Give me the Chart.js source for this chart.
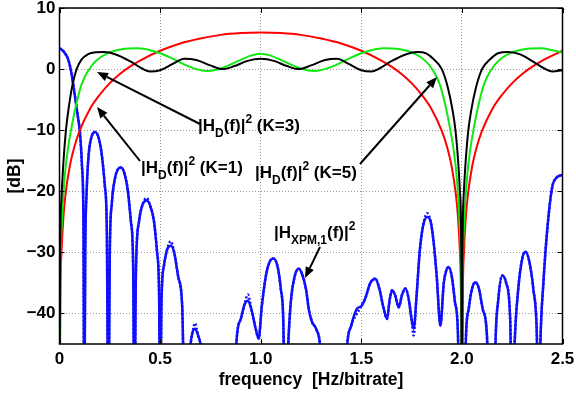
<!DOCTYPE html>
<html>
<head>
<meta charset="utf-8">
<script src="https://cdn.jsdelivr.net/npm/chart.js@4.4.1/dist/chart.umd.min.js"></script>
<style>
  html, body { margin: 0; padding: 0; background: #fff; }
</style>
</head>
<body>
<canvas id="myChart" width="576" height="398"></canvas>
<script>
// |H_D(f)|^2, K=1 (red)
var k1Freq = [0, 0.005, 0.01, 0.02, 0.03, 0.05, 0.075, 0.1, 0.15, 0.2, 0.25, 0.3, 0.35, 0.4, 0.5, 0.6, 0.7, 0.8, 0.9, 1.0,
              1.1, 1.2, 1.3, 1.4, 1.5, 1.6, 1.65, 1.7, 1.75, 1.8, 1.85, 1.9, 1.925, 1.95, 1.97, 1.98, 1.99, 1.995, 2.0,
              2.005, 2.01, 2.02, 2.03, 2.05, 2.075, 2.1, 2.15, 2.2, 2.25, 2.3, 2.35, 2.4, 2.5];
var k1Db   = [-60, -36, -30, -24, -20.5, -16.1, -12.6, -10.1, -6.6, -4.2, -2.3, -0.8, 0.4, 1.4, 3.0, 4.2, 5.0, 5.6, 5.9, 6.0,
              5.9, 5.6, 5.0, 4.2, 3.0, 1.4, 0.4, -0.8, -2.3, -4.2, -6.6, -10.1, -12.6, -16.1, -20.5, -24, -30, -36, -60,
              -36, -30, -24, -20.5, -16.1, -12.6, -10.1, -6.6, -4.2, -2.3, -0.8, 0.4, 1.4, 3.0];

// K=3 (green)
var k3Freq = [0, 0.004, 0.012, 0.025, 0.04, 0.06, 0.085, 0.11, 0.14, 0.18, 0.24, 0.31, 0.39, 0.45, 0.5, 0.57, 0.63, 0.68, 0.73, 0.78, 0.84, 0.9, 0.95, 1.0,
              1.05, 1.1, 1.16, 1.22, 1.27, 1.32, 1.37, 1.43, 1.5, 1.55,
              1.61, 1.69, 1.76, 1.82, 1.86, 1.89, 1.915, 1.94, 1.96, 1.975, 1.988, 1.996, 2.0,
              2.004, 2.012, 2.025, 2.04, 2.06, 2.085, 2.11, 2.14, 2.18, 2.24, 2.31, 2.39, 2.45, 2.5];
var k3Db   = [-60, -35, -25, -18, -13.5, -9.5, -5.5, -2.5, -0.4, 1.3, 2.6, 3.25, 3.4, 3.1, 2.6, 1.6, 0.6, 0, -0.3, -0.1, 0.6, 1.5, 2.2, 2.5,
              2.2, 1.5, 0.6, -0.1, -0.3, 0, 0.6, 1.6, 2.6, 3.1,
              3.4, 3.25, 2.6, 1.3, -0.4, -2.5, -5.5, -9.5, -13.5, -18, -25, -35, -60,
              -35, -25, -18, -13.5, -9.5, -5.5, -2.5, -0.4, 1.3, 2.6, 3.25, 3.4, 3.1, 2.7];

// K=5 (black)
var k5Freq = [0, 0.003, 0.01, 0.02, 0.032, 0.045, 0.065, 0.085, 0.11, 0.14, 0.18, 0.22, 0.28, 0.35, 0.41, 0.45, 0.5, 0.56, 0.62, 0.68, 0.75, 0.81, 0.87, 0.93, 1.0,
              1.07, 1.13, 1.19, 1.25, 1.32, 1.38, 1.44, 1.5, 1.55, 1.59, 1.65, 1.72,
              1.78, 1.82, 1.86, 1.9, 1.93, 1.955, 1.968, 1.98, 1.99, 1.997, 2.0,
              2.003, 2.01, 2.02, 2.032, 2.045, 2.07, 2.1, 2.14, 2.18, 2.23, 2.29, 2.35, 2.41, 2.45, 2.5];
var k5Db   = [-60, -31, -21, -15, -10, -6.5, -2.5, 0, 1.6, 2.4, 2.75, 2.8, 2.4, 1.3, 0.1, -0.4, -0.2, 0.8, 1.7, 1.5, 0.6, 0, 0.5, 1.3, 1.7,
              1.3, 0.5, 0, 0.6, 1.5, 1.7, 0.8, -0.2, -0.4, 0.1, 1.3, 2.4,
              2.8, 2.6, 1.6, 0, -3, -7, -10, -14.5, -20, -30, -60,
              -30, -20, -14.5, -10, -7, -3, 0, 1.6, 2.6, 2.8, 2.4, 1.3, 0.1, -0.4, -0.2];

// |H_XPM,1(f)|^2 (blue)
var xpmFreq = [0, 0.02, 0.044, 0.06, 0.077, 0.09, 0.102, 0.112, 0.119, 0.123,
               0.128, 0.135, 0.145, 0.16, 0.177, 0.195, 0.21, 0.225, 0.235, 0.243,
               0.25, 0.26, 0.275, 0.29, 0.306, 0.322, 0.34, 0.355, 0.366, 0.372,
               0.38, 0.395, 0.415, 0.434, 0.45, 0.47, 0.485, 0.495, 0.5,
               0.507, 0.52, 0.535, 0.553, 0.57, 0.59, 0.61, 0.624,
               0.65, 0.662, 0.674, 0.688, 0.707, 0.75, 0.87,
               0.878, 0.9, 0.92, 0.936, 0.955, 0.975, 0.99, 1.005, 1.025, 1.045, 1.064, 1.085, 1.1, 1.112, 1.122,
               1.137, 1.15, 1.17, 1.188, 1.205, 1.225, 1.24, 1.255, 1.275, 1.296, 1.32, 1.41,
               1.429, 1.45, 1.479, 1.5, 1.52, 1.545, 1.57, 1.59, 1.61, 1.628, 1.64, 1.653, 1.668, 1.686, 1.702, 1.719, 1.735, 1.75, 1.76,
               1.775, 1.79, 1.805, 1.827, 1.845, 1.86, 1.875, 1.893, 1.91, 1.922, 1.934, 1.95, 1.965, 1.98, 1.99, 2.01,
               2.02, 2.035, 2.05, 2.067, 2.085, 2.105, 2.125, 2.134, 2.16,
               2.167, 2.18, 2.2, 2.22, 2.24, 2.25,
               2.262, 2.28, 2.3, 2.316, 2.335, 2.355, 2.372, 2.382,
               2.39, 2.405, 2.425, 2.449, 2.47, 2.49, 2.5];
var xpmDb   = [3.4, 2.9, 1.5, -0.8, -4.5, -7.5, -10.5, -16, -25, -60,
               -30, -20, -14, -11, -10.3, -11.3, -14, -19, -26, -60,
               -30, -22, -18, -16.4, -16.1, -17, -20, -25, -32, -60,
               -33, -25, -22, -21.5, -22.3, -25, -30, -37, -60,
               -38, -32, -29.5, -28.9, -30, -34, -39, -60,
               -45.5, -43, -42.5, -43.5, -46, -60, -60,
               -45.5, -41, -38.5, -37.9, -39.5, -42.5, -44.1, -39, -34, -31.5, -31.0, -32.5, -36, -41, -60,
               -45, -38, -33.8, -32.7, -33.5, -36, -39.5, -41.4, -42.5, -45.5, -60, -60,
               -45.5, -42, -39.2, -38.8, -37.5, -35, -34.3, -36, -39, -40.9, -38, -36.2, -37, -39.0, -37, -35.9, -37.5, -41, -42.5,
               -37, -30, -26, -24.2, -25, -28.5, -34, -42, -35, -33, -32.4, -34, -38, -43, -60, -60,
               -44, -39, -36, -34.9, -36, -39.5, -44, -60, -60,
               -45, -38, -33.8, -35, -41, -60,
               -45, -36, -31, -29.9, -31.5, -36, -43, -60,
               -45, -35, -26, -19.3, -17.8, -17.4, -17.3];
// dotted twin of the XPM curve: differs only at a few points
var xpmDotFix = { '0.434': -21.1, '0.553': -28.2, '0.674': -41.6, '0.936': -36.9, '1.479': -40.0, '1.76': -43.6, '1.827': -23.6 };

var yTicks = [-40, -30, -20, -10, 0, 10];
var xTicks = [0, 0.5, 1, 1.5, 2, 2.5];

function pts(fs, ds) {
    return fs.map(function (f, i) { return { x: f, y: ds[i] }; });
}
var xpmDotDb = xpmFreq.map(function (f, i) {
    var k = String(f);
    return xpmDotFix[k] !== undefined ? xpmDotFix[k] : xpmDb[i];
});

var FONT = '"Liberation Sans", Arial, Helvetica, sans-serif';

function richText(ctx, x, y, parts) {
    parts.forEach(function (p) {
        var size = p.s ? 12 : 17;
        var dy = p.s === 'sub' ? 6 : (p.s === 'sup' ? -8 : 0);
        ctx.font = 'bold ' + size + 'px ' + FONT;
        ctx.fillText(p.t, x, y + dy);
        x += ctx.measureText(p.t).width;
    });
}

function arrow(ctx, x1, y1, x2, y2) {
    var ang = Math.atan2(y2 - y1, x2 - x1), L = 11, W = 4.5;
    var bx = x2 - L * Math.cos(ang), by = y2 - L * Math.sin(ang);
    ctx.lineWidth = 2;
    ctx.beginPath();
    ctx.moveTo(x1, y1);
    ctx.lineTo(bx, by);
    ctx.stroke();
    ctx.beginPath();
    ctx.moveTo(x2, y2);
    ctx.lineTo(bx + W * Math.sin(ang), by - W * Math.cos(ang));
    ctx.lineTo(bx - W * Math.sin(ang), by + W * Math.cos(ang));
    ctx.closePath();
    ctx.fill();
}

var overlay = {
    id: 'overlay',
    afterDraw: function (chart) {
        var ctx = chart.ctx, a = chart.chartArea;
        var xs = chart.scales.x, ys = chart.scales.y;
        ctx.save();
        ctx.strokeStyle = '#000';
        ctx.fillStyle = '#000';
        // inward tick marks
        ctx.lineWidth = 1;
        ctx.beginPath();
        xTicks.forEach(function (v) {
            var px = Math.round(xs.getPixelForValue(v)) + 0.5;
            ctx.moveTo(px, a.bottom); ctx.lineTo(px, a.bottom - 5);
            ctx.moveTo(px, a.top); ctx.lineTo(px, a.top + 5);
        });
        yTicks.forEach(function (v) {
            var py = Math.round(ys.getPixelForValue(v)) + 0.5;
            ctx.moveTo(a.left, py); ctx.lineTo(a.left + 5, py);
            ctx.moveTo(a.right, py); ctx.lineTo(a.right - 5, py);
        });
        ctx.stroke();
        // frame
        ctx.lineWidth = 1.5;
        ctx.strokeRect(a.left, a.top, a.right - a.left, a.bottom - a.top);

        // annotations
        ctx.textBaseline = 'alphabetic';
        ctx.textAlign = 'left';
        richText(ctx, 198, 131, [{t: '|H'}, {t: 'D', s: 'sub'}, {t: '(f)|'}, {t: '2', s: 'sup'}, {t: ' (K=3)'}]);
        richText(ctx, 141, 173, [{t: '|H'}, {t: 'D', s: 'sub'}, {t: '(f)|'}, {t: '2', s: 'sup'}, {t: ' (K=1)'}]);
        richText(ctx, 255, 178, [{t: '|H'}, {t: 'D', s: 'sub'}, {t: '(f)|'}, {t: '2', s: 'sup'}, {t: ' (K=5)'}]);
        richText(ctx, 274, 238, [{t: '|H'}, {t: 'XPM,1', s: 'sub'}, {t: '(f)|'}, {t: '2', s: 'sup'}]);

        arrow(ctx, 200, 124, 97, 72);
        arrow(ctx, 140, 161, 97, 107);
        arrow(ctx, 360, 164, 437, 77);
        arrow(ctx, 320, 247, 305, 278);
        ctx.restore();
    }
};

var ctx = document.getElementById('myChart').getContext('2d');

var lineChart = new Chart(ctx, {
    type: 'line',
    data: {
        datasets: [
            { data: pts(k5Freq, k5Db), borderColor: '#000000', borderWidth: 2, order: 0 },
            { data: pts(k3Freq, k3Db), borderColor: '#10e810', borderWidth: 2, order: 1 },
            { data: pts(k1Freq, k1Db), borderColor: '#ff0000', borderWidth: 2, order: 2 },
            { data: pts(xpmFreq, xpmDb), borderColor: '#1010ff', borderWidth: 2.5, order: 3 },
            { data: pts(xpmFreq, xpmDotDb), borderColor: '#1010ff', borderWidth: 2.5, borderDash: [2, 2], order: 4 }
        ]
    },
    options: {
        responsive: false,
        animation: false,
        layout: { padding: { top: 8, right: 13.5, left: 0, bottom: 0 } },
        plugins: { legend: { display: false }, tooltip: { enabled: false } },
        elements: {
            point: { radius: 0 },
            line: { cubicInterpolationMode: 'monotone', fill: false }
        },
        scales: {
            x: {
                type: 'linear',
                min: 0,
                max: 2.5,
                afterBuildTicks: function (s) { s.ticks = xTicks.map(function (v) { return { value: v }; }); },
                afterFit: function (s) { s.height = 54; s.paddingLeft = 0; s.paddingRight = 0; },
                ticks: { padding: 5, color: '#000', font: { family: FONT, size: 17, weight: 'bold' } },
                grid: { color: '#9a9a9a', drawTicks: false },
                border: { display: false, dash: [1, 2] },
                title: {
                    display: true,
                    text: 'frequency  [Hz/bitrate]',
                    color: '#000',
                    padding: { top: 0, bottom: 7 },
                    font: { family: FONT, size: 17.5, weight: 'bold' }
                }
            },
            y: {
                min: -45,
                max: 10,
                afterBuildTicks: function (s) { s.ticks = yTicks.map(function (v) { return { value: v }; }); },
                afterFit: function (s) { s.width = 59.5; s.paddingTop = 0; s.paddingBottom = 0; },
                ticks: {
                    padding: 4,
                    color: '#000',
                    font: { family: FONT, size: 17, weight: 'bold' },
                    callback: function (v) { return v < 0 ? '\u2212' + Math.abs(v) : String(v); }
                },
                grid: { color: '#9a9a9a', drawTicks: false },
                border: { display: false, dash: [1, 2] },
                title: {
                    display: true,
                    text: '[dB]',
                    color: '#000',
                    padding: { top: 5, bottom: 0 },
                    font: { family: FONT, size: 17.5, weight: 'bold' }
                }
            }
        }
    },
    plugins: [overlay]
});
</script>
</body>
</html>
